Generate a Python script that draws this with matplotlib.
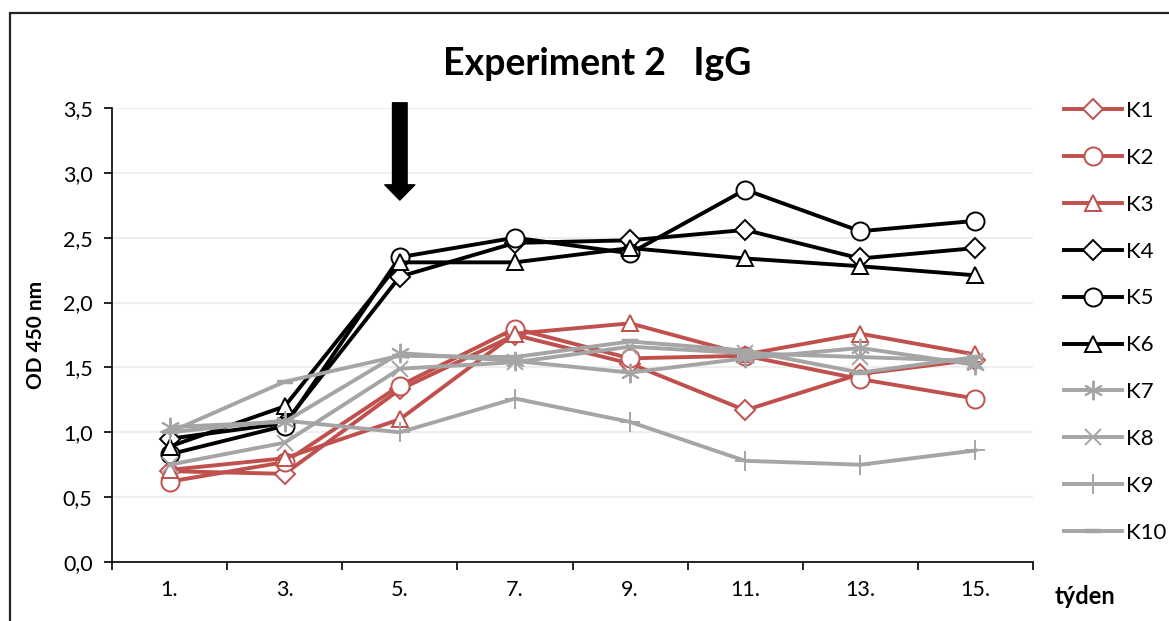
import numpy as np
import matplotlib
matplotlib.use('Agg')
import matplotlib.pyplot as plt
from matplotlib.patches import Rectangle

plt.rcParams['font.family'] = ['Lato', 'DejaVu Sans']

# week labels (categories)
weeks = ['1.', '3.', '5.', '7.', '9.', '11.', '13.', '15.']

# OD 450 nm values
k1 = [0.70, 0.68, 1.33, 1.75, 1.53, 1.17, 1.45, 1.56]
k2 = [0.62, 0.77, 1.36, 1.80, 1.57, 1.59, 1.41, 1.26]
k3 = [0.71, 0.80, 1.10, 1.76, 1.84, 1.60, 1.76, 1.60]
k4 = [0.95, 1.07, 2.20, 2.46, 2.48, 2.56, 2.34, 2.42]
k5 = [0.83, 1.05, 2.35, 2.50, 2.38, 2.87, 2.55, 2.63]
k6 = [0.89, 1.20, 2.31, 2.31, 2.42, 2.34, 2.28, 2.21]
k7 = [1.04, 1.08, 1.61, 1.55, 1.46, 1.57, 1.65, 1.52]
k8 = [0.75, 0.92, 1.49, 1.54, 1.66, 1.61, 1.58, 1.55]
k9 = [1.00, 1.09, 1.00, 1.26, 1.08, 0.78, 0.75, 0.86]
k10 = [1.00, 1.39, 1.59, 1.58, 1.70, 1.63, 1.46, 1.58]

names = ['K1', 'K2', 'K3', 'K4', 'K5', 'K6', 'K7', 'K8', 'K9', 'K10']
series = [k1, k2, k3, k4, k5, k6, k7, k8, k9, k10]

RED = '#C0504D'
GREY = '#A5A5A5'
colors = [RED] * 3 + ['black'] * 3 + [GREY] * 4
markers = ['D', 'o', '^', 'D', 'o', '^', (6, 2, 0), 'x', '+', '_']
msizes = [10, 13, 12, 10, 13, 12, 14, 12, 14, 12]

fig = plt.figure(figsize=(11.69, 6.21), dpi=100)
ax = fig.add_axes([112 / 1169, 1 - 562 / 621, (1033 - 112) / 1169, (562 - 108) / 621])

# chart area border
fig.patches.append(Rectangle((10 / 1169, -0.1), 1.2, 1 - 13 / 621 + 0.1,
                             transform=fig.transFigure, fill=False,
                             edgecolor='#222222', linewidth=1.6))

x = np.arange(len(weeks))
handles = []
for vals, name, c, m, ms in zip(series, names, colors, markers, msizes):
    filled = m in ('D', 'o', '^')
    h, = ax.plot(x, vals, color=c, linewidth=2.8, marker=m, markersize=ms,
                 markerfacecolor='white' if filled else c,
                 markeredgecolor=c, markeredgewidth=3.2 if m == '_' else 1.4,
                 label=name, clip_on=False)
    handles.append(h)

ax.set_xlim(-0.5, len(weeks) - 0.5)
ax.set_ylim(0, 3.5)
yt = np.arange(0, 3.51, 0.5)
ax.set_yticks(yt)
ax.set_yticklabels([f'{v:.1f}'.replace('.', ',') for v in yt], fontsize=15.5)
ax.yaxis.grid(True, color='#EFEFEF', linewidth=1.5)
ax.set_axisbelow(True)

# category axis: tick marks between categories, labels at centres
ax.set_xticks(np.arange(-0.5, len(weeks), 1.0))
ax.set_xticklabels([])
ax.set_xticks(x, minor=True)
ax.set_xticklabels(weeks, minor=True, fontsize=15.5)
ax.tick_params(axis='x', which='major', length=6, width=1.2, direction='out')
ax.tick_params(axis='x', which='minor', length=0, pad=13)
ax.tick_params(axis='y', length=6, width=1.2, direction='out', pad=8)

for s in ['top', 'right']:
    ax.spines[s].set_visible(False)
for s in ['left', 'bottom']:
    ax.spines[s].set_linewidth(1.2)

ax.set_ylabel('OD 450 nm', fontsize=15, fontweight='bold', labelpad=12)
fig.text(1085 / 1169, 1 - 596 / 621, 'týden', fontsize=17, fontweight='bold',
         ha='center', va='center')
fig.text(597 / 1169, 1 - 64 / 621, 'Experiment 2   IgG', fontsize=27,
         fontweight='bold', ha='center', va='center')

# arrow marking week 5
ax.annotate('', xy=(2, 2.79), xytext=(2, 3.54), annotation_clip=False,
            arrowprops=dict(width=10.5, headwidth=21.6, headlength=11,
                            facecolor='black', edgecolor='black', shrink=0))

fig.legend(handles=handles, loc='upper left', bbox_to_anchor=(1055 / 1169, 1 - 92 / 621),
           frameon=False, fontsize=16, handlelength=2.6, labelspacing=1.21,
           handletextpad=0.2, borderaxespad=0)

fig.savefig('out.png', dpi=100)
